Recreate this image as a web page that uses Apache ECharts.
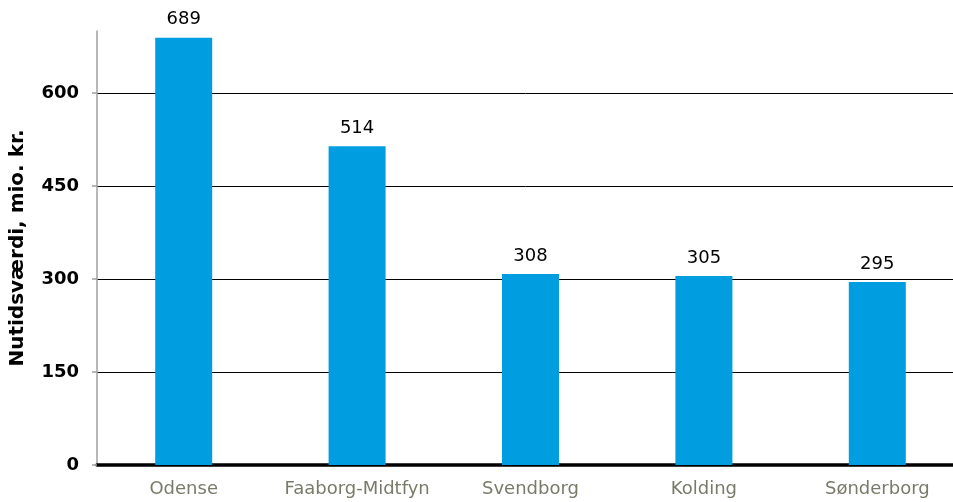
<!DOCTYPE html>
<html>
<head>
<meta charset="utf-8">
<script src="https://cdn.jsdelivr.net/npm/echarts@6/dist/echarts.min.js"></script>
<style>
  html, body { margin: 0; padding: 0; background: #fff; }
  #chart { width: 953px; height: 502px; }
</style>
</head>
<body>
<div id="chart"></div>
<script>
// Present value per municipality (mio. kr.)
const categories = ['Odense', 'Faaborg-Midtfyn', 'Svendborg', 'Kolding', 'Sønderborg'];
const values = [689, 514, 308, 305, 295];
const yTicks = [0, 150, 300, 450, 600];
const yAxisTitle = 'Nutidsværdi, mio. kr.';

const FONT = '"DejaVu Sans", Verdana, sans-serif';

const chart = echarts.init(document.getElementById('chart'), null, { renderer: 'canvas' });
chart.setOption({
  animation: false,
  backgroundColor: '#ffffff',
  grid: { left: 97, top: 31, width: 867, height: 434, containLabel: false, outerBoundsMode: 'none' },
  xAxis: {
    type: 'category',
    data: categories,
    axisLine: { show: true, lineStyle: { color: '#000', width: 3.5 } },
    axisTick: { show: false },
    axisLabel: { interval: 0, color: '#7a7a6a', fontFamily: FONT, fontSize: 18, margin: 15 },
    splitLine: { show: false }
  },
  yAxis: {
    type: 'value',
    min: 0,
    max: 700,
    interval: 150,
    name: yAxisTitle,
    nameLocation: 'middle',
    nameGap: 69,
    nameRotate: 90,
    nameTextStyle: { fontFamily: FONT, fontSize: 20, fontWeight: 'bold', color: '#000' },
    axisLine: { show: true, lineStyle: { color: '#a0a0a0', width: 1.5 } },
    axisTick: { show: true, length: 5, customValues: yTicks, lineStyle: { color: '#a0a0a0', width: 1.5 } },
    axisLabel: { customValues: yTicks, fontFamily: FONT, fontSize: 18, fontWeight: 'bold', color: '#000', margin: 18 },
    splitLine: { show: true, showMinLine: false, showMaxLine: true, lineStyle: { color: '#000', width: 1 } }
  },
  series: [{
    type: 'bar',
    data: values,
    barWidth: 57,
    itemStyle: { color: '#009ee0' },
    label: {
      show: true,
      position: 'top',
      distance: 9,
      fontFamily: FONT,
      fontSize: 18,
      color: '#000'
    }
  }]
});
</script>
</body>
</html>
